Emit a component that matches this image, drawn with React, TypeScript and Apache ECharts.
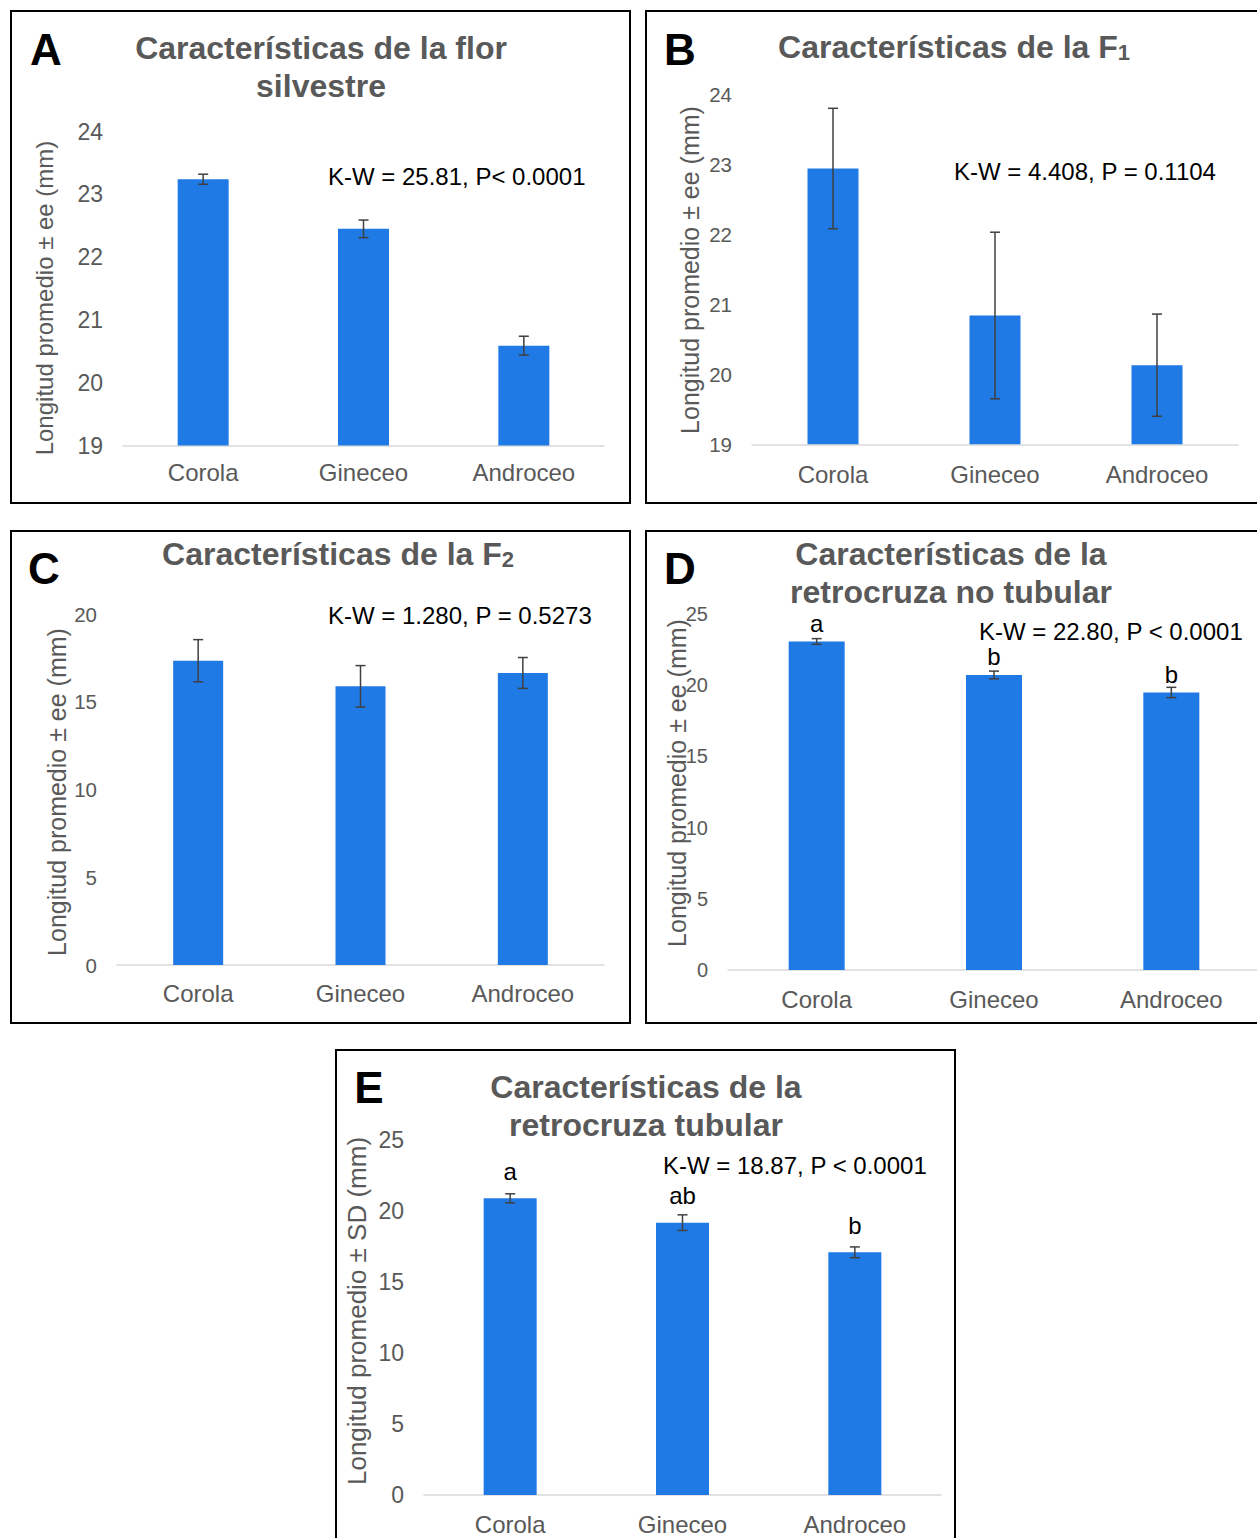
import React, { useEffect, useRef } from "react";
import * as echarts from "echarts";

const CATEGORIES = ["Corola", "Gineceo", "Androceo"];

const A_MEANS = [23.24, 22.45, 20.59];
const A_ERR = [0.08, 0.14, 0.15];
const A_TICKS = [19, 20, 21, 22, 23, 24];

const B_MEANS = [22.94, 20.84, 20.13];
const B_ERR = [0.86, 1.19, 0.73];
const B_TICKS = [19, 20, 21, 22, 23, 24];

const C_MEANS = [17.34, 15.88, 16.64];
const C_ERR = [1.2, 1.18, 0.88];
const C_TICKS = [0, 5, 10, 15, 20];

const D_MEANS = [23.07, 20.72, 19.49];
const D_ERR = [0.2, 0.27, 0.36];
const D_LETTERS = ["a", "b", "b"];
const D_TICKS = [0, 5, 10, 15, 20, 25];

const E_MEANS = [20.89, 19.18, 17.09];
const E_ERR = [0.32, 0.55, 0.38];
const E_LETTERS = ["a", "ab", "b"];
const E_TICKS = [0, 5, 10, 15, 20, 25];

const TITLE_A = "Características de la flor\nsilvestre";
const TITLE_B = "{t|Características de la F}{s|1}";
const TITLE_C = "{t|Características de la F}{s|2}";
const TITLE_D = "Características de la\nretrocruza no tubular";
const TITLE_E = "Características de la\nretrocruza tubular";

const STAT_A = "K-W = 25.81, P< 0.0001";
const STAT_B = "K-W = 4.408, P = 0.1104";
const STAT_C = "K-W = 1.280, P = 0.5273";
const STAT_D = "K-W = 22.80, P < 0.0001";
const STAT_E = "K-W = 18.87, P < 0.0001";

const YTITLE_EE = "Longitud promedio ± ee (mm)";
const YTITLE_SD = "Longitud promedio ± SD (mm)";

const FONT = "'Liberation Sans', Arial, Helvetica, sans-serif";
const BAR = "#1f7ae6";
const GRAY = "#595959";
const ERRC = "#404040";

type Panel = {
  means: number[];
  err: number[];
  ticks: number[];
  letters?: string[];
  grid: { left: number; top: number; width: number; height: number };
  barWidth: number;
  tickSize: number;
  labelMargin: number;
  letterDist?: number;
};

const PANELS: Panel[] = [
  { means: A_MEANS, err: A_ERR, ticks: A_TICKS, grid: { left: 123, top: 131.5, width: 481, height: 314 }, barWidth: 51, tickSize: 23, labelMargin: 15 },
  { means: B_MEANS, err: B_ERR, ticks: B_TICKS, grid: { left: 752, top: 94.3, width: 486, height: 350 }, barWidth: 51, tickSize: 20.5, labelMargin: 18 },
  { means: C_MEANS, err: C_ERR, ticks: C_TICKS, grid: { left: 117, top: 614, width: 487, height: 351 }, barWidth: 50, tickSize: 20.5, labelMargin: 16 },
  { means: D_MEANS, err: D_ERR, ticks: D_TICKS, letters: D_LETTERS, grid: { left: 728, top: 614, width: 532, height: 356 }, barWidth: 56, tickSize: 20, labelMargin: 17, letterDist: 6 },
  { means: E_MEANS, err: E_ERR, ticks: E_TICKS, letters: E_LETTERS, grid: { left: 424, top: 1140, width: 517, height: 355 }, barWidth: 53, tickSize: 23, labelMargin: 17, letterDist: 15 },
];

function buildOption() {
  const grids: any[] = [];
  const xAxes: any[] = [];
  const yAxes: any[] = [];
  const series: any[] = [];

  PANELS.forEach((p, i) => {
    grids.push({ ...p.grid, outerBoundsMode: "none", containLabel: false });
    xAxes.push({
      type: "category",
      gridIndex: i,
      data: CATEGORIES,
      axisLine: { show: true, lineStyle: { color: "#d9d9d9", width: 1.5 } },
      axisTick: { show: false },
      axisLabel: { color: GRAY, fontSize: 24, fontFamily: FONT, margin: p.labelMargin },
      splitLine: { show: false },
    });
    const min = p.ticks[0];
    const max = p.ticks[p.ticks.length - 1];
    const interval = p.ticks[1] - p.ticks[0];
    yAxes.push({
      type: "value",
      gridIndex: i,
      min,
      max,
      interval,
      axisLine: { show: false },
      axisTick: { show: false },
      splitLine: { show: false },
      axisLabel: { color: GRAY, fontSize: p.tickSize, fontFamily: FONT, margin: 20 },
    });
    series.push({
      type: "bar",
      xAxisIndex: i,
      yAxisIndex: i,
      data: p.means,
      barWidth: p.barWidth,
      itemStyle: { color: BAR },
      silent: true,
      label: p.letters
        ? {
            show: true,
            position: "top",
            distance: p.letterDist,
            color: "#000",
            fontSize: 24,
            fontFamily: FONT,
            formatter: (prm: any) => p.letters![prm.dataIndex],
          }
        : { show: false },
    });
    series.push({
      type: "custom",
      xAxisIndex: i,
      yAxisIndex: i,
      silent: true,
      z: 5,
      encode: { x: 0, y: 1 },
      data: CATEGORIES.map((_, k) => [k, p.means[k], p.err[k]]),
      renderItem: (params: any, api: any) => {
        const idx = api.value(0);
        const v = api.value(1);
        const e = api.value(2);
        const hi = api.coord([idx, v + e]);
        const lo = api.coord([idx, v - e]);
        const hw = 5;
        const st = { stroke: ERRC, lineWidth: 1.5 };
        return {
          type: "group",
          children: [
            { type: "line", shape: { x1: hi[0], y1: hi[1], x2: lo[0], y2: lo[1] }, style: st },
            { type: "line", shape: { x1: hi[0] - hw, y1: hi[1], x2: hi[0] + hw, y2: hi[1] }, style: st },
            { type: "line", shape: { x1: lo[0] - hw, y1: lo[1], x2: lo[0] + hw, y2: lo[1] }, style: st },
          ],
        };
      },
    });
  });

  const rect = (x: number, y: number, w: number, h: number) => ({
    type: "rect",
    shape: { x, y, width: w, height: h },
    style: { fill: "none", stroke: "#000", lineWidth: 2 },
    silent: true,
  });

  const text = (x: number, y: number, t: string, o: any = {}) => ({
    type: "text",
    x,
    y,
    rotation: o.rotation || 0,
    style: {
      text: t,
      fill: o.fill || "#000",
      fontSize: o.fontSize || 24,
      fontWeight: o.fontWeight || "normal",
      fontFamily: FONT,
      align: o.align || "center",
      verticalAlign: "middle",
      lineHeight: o.lineHeight,
      rich: o.rich,
    },
    silent: true,
  });

  const titleStyle = { fill: GRAY, fontSize: 32, fontWeight: "bold", lineHeight: 38 };
  const richTitle = {
    t: { fill: GRAY, fontSize: 32, fontWeight: "bold", fontFamily: FONT, verticalAlign: "bottom", lineHeight: 38 },
    s: { fill: GRAY, fontSize: 22, fontWeight: "bold", fontFamily: FONT, verticalAlign: "bottom", lineHeight: 34 },
  };
  const letter = { fontSize: 44, fontWeight: "bold", fill: "#000" };
  const yT = (fs: number) => ({ fill: GRAY, fontSize: fs, rotation: Math.PI / 2 });

  const graphic = [
    rect(11, 11, 619, 492),
    rect(646, 11, 625, 492),
    rect(11, 531, 619, 492),
    rect(646, 531, 625, 492),
    rect(336, 1050, 619, 510),
    text(46, 49, "A", letter),
    text(680, 49, "B", letter),
    text(44, 568, "C", letter),
    text(680, 568, "D", letter),
    text(369, 1087, "E", letter),
    text(321, 67, TITLE_A, titleStyle),
    text(954, 44, TITLE_B, { ...titleStyle, rich: richTitle }),
    text(338, 551, TITLE_C, { ...titleStyle, rich: richTitle }),
    text(951, 573, TITLE_D, titleStyle),
    text(646, 1106, TITLE_E, titleStyle),
    text(328, 176, STAT_A, { align: "left" }),
    text(954, 171, STAT_B, { align: "left" }),
    text(328, 615, STAT_C, { align: "left" }),
    text(979, 631, STAT_D, { align: "left" }),
    text(663, 1165, STAT_E, { align: "left" }),
    text(44, 298, YTITLE_EE, yT(24)),
    text(690, 270, YTITLE_EE, yT(25)),
    text(57, 792, YTITLE_EE, yT(25)),
    text(677, 783, YTITLE_EE, yT(25)),
    text(357, 1311, YTITLE_SD, yT(26)),
  ];

  return {
    animation: false,
    backgroundColor: "#fff",
    grid: grids,
    xAxis: xAxes,
    yAxis: yAxes,
    series,
    graphic,
  };
}

export default function App() {
  const ref = useRef<HTMLDivElement>(null);
  useEffect(() => {
    if (!ref.current) return;
    const chart = echarts.init(ref.current, null, { renderer: "svg" });
    chart.setOption(buildOption() as any);
    return () => chart.dispose();
  }, []);
  return (
    <div
      ref={ref}
      style={{ position: "absolute", left: 0, top: 0, width: 1257, height: 1538, background: "#fff" }}
    />
  );
}
